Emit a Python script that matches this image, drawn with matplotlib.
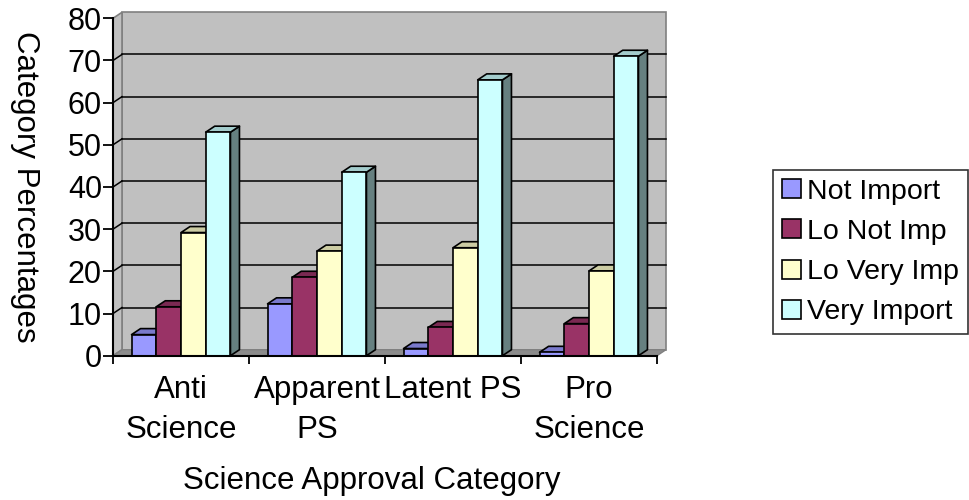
import matplotlib
matplotlib.use("Agg")
import matplotlib.pyplot as plt
from matplotlib.patches import Polygon, Patch
from matplotlib.transforms import blended_transform_factory

plt.rcParams['font.family'] = ['Liberation Sans', 'DejaVu Sans']

categories = ["Anti\nScience", "Apparent\nPS", "Latent PS", "Pro\nScience"]
series_names = ["Not Import", "Lo Not Imp", "Lo Very Imp", "Very Import"]
not_import = [5.0, 12.3, 1.7, 0.8]
lo_not_imp = [11.6, 18.6, 6.7, 7.6]
lo_very_imp = [29.2, 24.8, 25.6, 20.1]
very_import = [53.0, 43.5, 65.4, 71.0]
y_ticks = [0, 10, 20, 30, 40, 50, 60, 70, 80]
colors = ["#9999FF", "#993366", "#FFFFCC", "#CCFFFF"]

series = [not_import, lo_not_imp, lo_very_imp, very_import]

W, H = 969, 500
fig = plt.figure(figsize=(W / 100, H / 100), dpi=100)
# front plane of the 3-D box, in figure pixels
x0, x1 = 113, 657
y_bot, y_top = 355.7, 18.3
ax = fig.add_axes([x0 / W, 1 - y_bot / H, (x1 - x0) / W, (y_bot - y_top) / H])
ax.set_xlim(0, 4)
ax.set_ylim(0, 80)
ax.patch.set_visible(False)

# depth offset of the box (9 px right, 6 px up) in data units
dx = 9 / (x1 - x0) * 4
dy = 6 / ((y_bot - y_top) / 80)


def shade(c, f):
    r, g, b = matplotlib.colors.to_rgb(c)
    return (r * f, g * f, b * f)


wall = "#C0C0C0"
wall_edge = "#808080"
# back wall
ax.add_patch(Polygon([(dx, dy), (4 + dx, dy), (4 + dx, 80 + dy), (dx, 80 + dy)],
                     closed=True, facecolor=wall, edgecolor=wall_edge, lw=1.2,
                     clip_on=False, zorder=1))
# side wall
ax.add_patch(Polygon([(0, 0), (dx, dy), (dx, 80 + dy), (0, 80)],
                     closed=True, facecolor=wall, edgecolor=wall_edge, lw=1.2,
                     clip_on=False, zorder=1))
# floor
ax.add_patch(Polygon([(0, 0), (4, 0), (4 + dx, dy), (dx, dy)],
                     closed=True, facecolor="#8C8C8C", edgecolor=wall_edge, lw=1.0,
                     clip_on=False, zorder=1.5))

# gridlines on back and side walls
for t in y_ticks[1:-1]:
    ax.plot([dx, 4 + dx], [t + dy, t + dy], color="black", lw=1.1,
            clip_on=False, zorder=2)
    ax.plot([0, dx], [t, t + dy], color="black", lw=1.1, clip_on=False, zorder=2)

# 3-D columns
bw = 1 / 5.5
gap = (1 - 4 * bw) / 2
lw = 1.2
for si, vals in enumerate(series):
    c = colors[si]
    for ci, v in enumerate(vals):
        xl = ci + gap + si * bw
        xr = xl + bw
        z = 3 + si
        # right side face
        ax.add_patch(Polygon([(xr, 0), (xr + dx, dy), (xr + dx, v + dy), (xr, v)],
                             closed=True, facecolor=shade(c, 0.5), edgecolor="black",
                             lw=lw, clip_on=False, zorder=z, joinstyle="round"))
        # top face
        ax.add_patch(Polygon([(xl, v), (xr, v), (xr + dx, v + dy), (xl + dx, v + dy)],
                             closed=True, facecolor=shade(c, 0.8), edgecolor="black",
                             lw=lw, clip_on=False, zorder=z, joinstyle="round"))
        # front face
        ax.add_patch(Polygon([(xl, 0), (xr, 0), (xr, v), (xl, v)],
                             closed=True, facecolor=c, edgecolor="black",
                             lw=lw, clip_on=False, zorder=z, joinstyle="round"))

# axes
for s in ["top", "right"]:
    ax.spines[s].set_visible(False)
for s in ["left", "bottom"]:
    ax.spines[s].set_linewidth(1.5)
    ax.spines[s].set_color("black")
    ax.spines[s].set_zorder(10)

ax.set_yticks(y_ticks)
ax.set_yticklabels([str(t) for t in y_ticks])
ax.tick_params(axis="y", direction="out", length=7, width=1.3, labelsize=22, pad=1)
ax.set_xticks([0, 1, 2, 3, 4])
ax.set_xticklabels([])
ax.tick_params(axis="x", which="major", direction="out", length=6, width=1.3)

# category names under each group, first lines sharing one baseline
tr = blended_transform_factory(ax.transData, fig.transFigure)
for i, name in enumerate(categories):
    lines = name.split("\n")
    for k, line in enumerate(lines):
        y_base = 398 + 40 * k
        ax.text(i + 0.5, 1 - y_base / H, line, transform=tr, ha="center",
                va="baseline", fontsize=22.5)

fig.text(25 / W, 1 - 187 / H, "Category Percentages", fontsize=22.5,
         rotation=270, ha="center", va="center")
fig.text(372 / W, 1 - 489 / H, "Science Approval Category", fontsize=22.5,
         ha="center", va="baseline")

handles = [Patch(facecolor=c, edgecolor="black", lw=1.2) for c in colors]
leg = fig.legend(handles, series_names, loc="upper left",
                 bbox_to_anchor=(773 / W, 1 - 170 / H), fontsize=20.5,
                 frameon=True, fancybox=False, edgecolor="black",
                 handlelength=0.7, handleheight=0.65, handletextpad=0.2,
                 labelspacing=0.5, borderpad=0.3, borderaxespad=0)
leg.get_frame().set_linewidth(1.2)

fig.savefig("out.png", dpi=100, facecolor="white")
